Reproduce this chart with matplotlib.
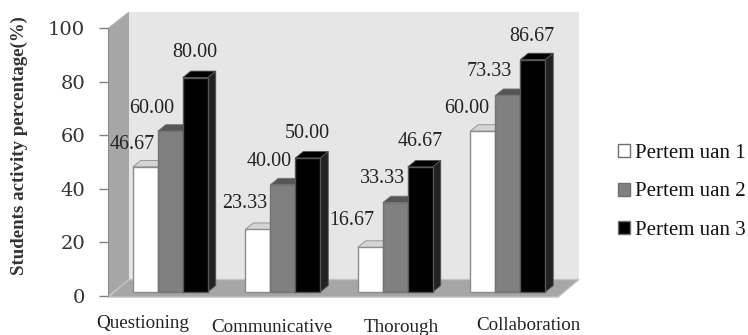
# 3D-look grouped bar chart of student activity
import matplotlib
matplotlib.use("Agg")
import matplotlib.pyplot as plt
from matplotlib.patches import Polygon, Patch

categories = ["Questioning", "Communicative", "Thorough", "Collaboration"]
series_names = ["Pertem uan 1", "Pertem uan 2", "Pertem uan 3"]
pertemuan1 = [46.67, 23.33, 16.67, 60.00]
pertemuan2 = [60.00, 40.00, 33.33, 73.33]
pertemuan3 = [80.00, 50.00, 46.67, 86.67]
series = [pertemuan1, pertemuan2, pertemuan3]
y_ticks = [0, 20, 40, 60, 80, 100]

W, H = 748, 335
px_x = 112.5          # pixels per category
px_y = 2.68           # pixels per percent
bar_w = 25 / px_x
depth_x = 8 / px_x
depth_y = 6.5 / px_y
wall_x = 21 / px_x
wall_y = 16.5 / px_y
base = 4 / px_y
shift = 6 / px_x

# front, top, side colours of each series
styles = [("#ffffff", "#d4d4d4", "#d4d4d4", "#8c8c8c"),
          ("#808080", "#565656", "#565656", "#737373"),
          ("#000000", "#000000", "#222222", "#555555")]

# label offsets in pixels from the top-left corner of each bar
label_dx = [[0, -1, -6, -4], [-6, -1, 0, -6], [12, 12, 13, 12]]
label_dy = [[22, 26, 27, 23], [23, 23, 24, 24], [25, 24, 25, 23]]
# category label placement in pixels
cat_x = [143, 272, 401, 528]
cat_y = [324, 327, 328, 325]

plt.rcParams["font.family"] = ["Liberation Serif", "DejaVu Serif"]
fig = plt.figure(figsize=(W / 100, H / 100), dpi=100, facecolor="white")
ax = fig.add_axes([108 / W, (H - 296) / H, 450 / W, 268 / H])
ax.set_xlim(0, 4)
ax.set_ylim(0, 100)
ax.patch.set_visible(False)

# back wall, side wall and floor
wall = "#a6a6a6"
ax.add_patch(Polygon([(wall_x, 0 + wall_y), (4 + wall_x, wall_y), (4 + wall_x, 100 + wall_y), (wall_x, 100 + wall_y)],
                     fc="#e6e6e6", ec="none", clip_on=False, zorder=0))
ax.add_patch(Polygon([(0, 0), (wall_x, wall_y), (wall_x, 100 + wall_y), (0, 100)],
                     fc=wall, ec="none", clip_on=False, zorder=1))
ax.add_patch(Polygon([(0, -0.4), (wall_x, wall_y), (4 + wall_x, wall_y), (4, -0.4)],
                     fc=wall, ec="#c4c4c4", lw=1, clip_on=False, zorder=1))

for s, values in enumerate(series):
    front, top, side, edge = styles[s]
    z = 3 + s
    xs = [i + 0.5 + shift + (s - 1) * bar_w for i in range(len(categories))]
    ax.bar(xs, values, width=bar_w, bottom=base, color=front, edgecolor=edge, linewidth=1, zorder=z + 0.5, clip_on=False)
    for i, (x, v) in enumerate(zip(xs, values)):
        x0, x1 = x - bar_w / 2, x + bar_w / 2
        t = v + base
        ax.add_patch(Polygon([(x0, t), (x1, t), (x1 + depth_x, t + depth_y), (x0 + depth_x, t + depth_y)],
                             fc=top, ec=edge, lw=0.6, clip_on=False, zorder=z))
        ax.add_patch(Polygon([(x1, base), (x1, t), (x1 + depth_x, t + depth_y), (x1 + depth_x, base + depth_y)],
                             fc=side, ec=edge, lw=0.6, clip_on=False, zorder=z))
        ax.annotate("%.2f" % v, (x0, t), xytext=(label_dx[s][i] * 0.72, label_dy[s][i] * 0.72),
                    textcoords="offset points", ha="center", va="center",
                    fontsize=14.4, color="#222222", zorder=10, annotation_clip=False)

for name, px, py in zip(categories, cat_x, cat_y):
    fig.text(px / W, 1 - py / H, name, ha="center", va="center", fontsize=13.7, color="#222222")

ax.set_xticks([])
ax.set_yticks(y_ticks)
ax.tick_params(axis="y", length=6.5, width=1, color="#808080", pad=10, labelsize=14, labelcolor="#333333")
for label in ax.get_yticklabels():
    label.set_family("DejaVu Serif")
for name in ["top", "right", "bottom"]:
    ax.spines[name].set_visible(False)
ax.spines["left"].set_color("#8c8c8c")
ax.spines["left"].set_zorder(2)

fig.text(19 / W, 1 - 146 / H, "Students activity percentage(%)", rotation=90, ha="center", va="center",
         fontsize=13.6, fontweight="bold", color="#333333")

handles = [Patch(facecolor=st[0], edgecolor="#6e6e6e", linewidth=1) for st in styles]
fig.legend(handles, series_names, loc="center left", bbox_to_anchor=(618 / W, 1 - 192 / H), frameon=False,
           fontsize=15, handlelength=0.58, handleheight=0.58, handletextpad=0.25, labelspacing=0.93,
           borderpad=0, borderaxespad=0, labelcolor="#111111")

fig.savefig("out.png", dpi=100)
